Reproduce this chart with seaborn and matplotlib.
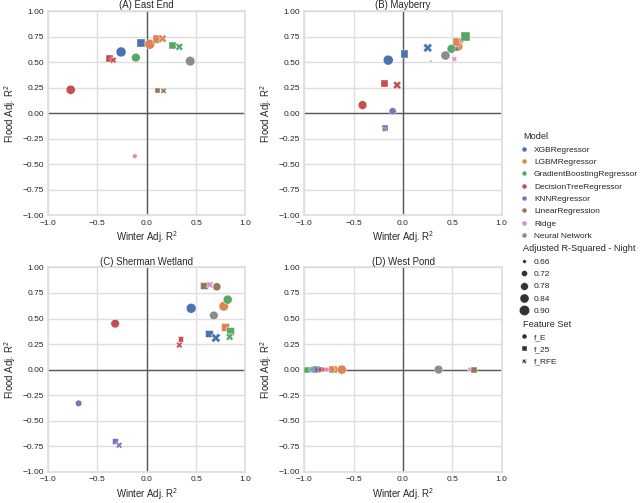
import pandas as pd
import seaborn as sns
import matplotlib.pyplot as plt
from matplotlib.lines import Line2D
from seaborn.utils import adjust_legend_subtitles

models = ['XGBRegressor', 'LGBMRegressor', 'GradientBoostingRegressor', 'DecisionTreeRegressor',
          'KNNRegressor', 'LinearRegression', 'Ridge', 'Neural Network']
short = dict(zip(['XGB', 'LGBM', 'GB', 'DT', 'KNN', 'LR', 'Ridge', 'NN'], models))
features = ['f_E', 'f_25', 'f_RFE']
size_ticks = [0.66, 0.72, 0.78, 0.84, 0.90]

# (A) East End
east_model = ['XGB', 'XGB', 'XGB', 'LGBM', 'LGBM', 'LGBM', 'GB', 'GB', 'GB',
              'DT', 'DT', 'DT', 'LR', 'LR', 'Ridge', 'NN']
east_feat = ['f_E', 'f_25', 'f_RFE', 'f_E', 'f_25', 'f_RFE', 'f_E', 'f_25', 'f_RFE',
             'f_E', 'f_25', 'f_RFE', 'f_25', 'f_RFE', 'f_E', 'f_E']
east_winter = [-0.26, -0.055, 0.10, 0.03, 0.10, 0.16, -0.11, 0.26, 0.33,
               -0.77, -0.38, -0.34, 0.11, 0.17, -0.12, 0.44]
east_flood = [0.60, 0.69, 0.70, 0.675, 0.73, 0.73, 0.545, 0.665, 0.65,
              0.23, 0.535, 0.52, 0.22, 0.22, -0.42, 0.51]
east_night = [0.88, 0.78, 0.68, 0.88, 0.78, 0.80, 0.82, 0.74, 0.78,
              0.84, 0.74, 0.74, 0.68, 0.72, 0.68, 0.86]

# (B) Mayberry
may_model = ['XGB', 'XGB', 'XGB', 'LGBM', 'LGBM', 'LGBM', 'GB', 'GB', 'DT', 'DT', 'DT',
             'KNN', 'KNN', 'KNN', 'LR', 'Ridge', 'NN', 'NN']
may_feat = ['f_E', 'f_25', 'f_RFE', 'f_E', 'f_25', 'f_RFE', 'f_E', 'f_25', 'f_E', 'f_25', 'f_RFE',
            'f_E', 'f_25', 'f_RFE', 'f_25', 'f_RFE', 'f_E', 'f_RFE']
may_winter = [-0.15, 0.015, 0.25, 0.56, 0.55, 0.59, 0.49, 0.635, -0.41, -0.19, -0.06,
              -0.105, -0.18, -0.19, 0.545, 0.52, 0.43, 0.28]
may_flood = [0.52, 0.58, 0.64, 0.655, 0.70, 0.71, 0.63, 0.75, 0.08, 0.29, 0.275,
             0.02, -0.14, -0.16, 0.63, 0.53, 0.565, 0.51]
may_night = [0.88, 0.76, 0.84, 0.84, 0.80, 0.70, 0.82, 0.82, 0.82, 0.74, 0.80,
             0.76, 0.72, 0.68, 0.68, 0.70, 0.84, 0.64]

# (C) Sherman Wetland
sher_model = ['XGB', 'XGB', 'XGB', 'LGBM', 'LGBM', 'GB', 'GB', 'GB', 'DT', 'DT', 'DT',
              'KNN', 'KNN', 'KNN', 'LR', 'LR', 'Ridge', 'NN']
sher_feat = ['f_E', 'f_25', 'f_RFE', 'f_E', 'f_25', 'f_E', 'f_25', 'f_RFE', 'f_E', 'f_25', 'f_RFE',
             'f_E', 'f_25', 'f_RFE', 'f_25', 'f_E', 'f_RFE', 'f_E']
sher_winter = [0.45, 0.63, 0.70, 0.78, 0.79, 0.82, 0.84, 0.84, -0.32, 0.34, 0.33,
               -0.69, -0.32, -0.28, 0.58, 0.71, 0.64, 0.68]
sher_flood = [0.60, 0.35, 0.31, 0.62, 0.415, 0.685, 0.375, 0.32, 0.45, 0.30, 0.24,
              -0.33, -0.70, -0.74, 0.82, 0.81, 0.83, 0.53]
sher_night = [0.88, 0.76, 0.86, 0.86, 0.78, 0.84, 0.78, 0.78, 0.82, 0.70, 0.74,
              0.74, 0.70, 0.74, 0.76, 0.80, 0.76, 0.82]

# (D) West Pond
west_model = ['GB', 'GB', 'KNN', 'XGB', 'XGB', 'DT', 'DT', 'Ridge', 'LGBM', 'LGBM', 'LGBM',
              'NN', 'Ridge', 'LR']
west_feat = ['f_25', 'f_E', 'f_E', 'f_25', 'f_E', 'f_25', 'f_RFE', 'f_E', 'f_25', 'f_RFE', 'f_E',
             'f_E', 'f_RFE', 'f_25']
west_winter = [-0.97, -0.92, -0.90, -0.88, -0.87, -0.83, -0.80, -0.77, -0.71, -0.66, -0.62,
               0.36, 0.68, 0.72]
west_flood = [0.0] * 14
west_night = [0.72, 0.74, 0.74, 0.76, 0.72, 0.70, 0.70, 0.68, 0.78, 0.80, 0.84,
              0.82, 0.70, 0.72]

sites = [
    ('(A) East End', east_model, east_feat, east_winter, east_flood, east_night),
    ('(B) Mayberry', may_model, may_feat, may_winter, may_flood, may_night),
    ('(C) Sherman Wetland', sher_model, sher_feat, sher_winter, sher_flood, sher_night),
    ('(D) West Pond', west_model, west_feat, west_winter, west_flood, west_night),
]

sns.set_theme(style='whitegrid')
plt.rcParams['font.family'] = ['Liberation Sans', 'DejaVu Sans']
plt.rcParams['mathtext.default'] = 'regular'
plt.rcParams['grid.color'] = '0.87'
plt.rcParams['axes.edgecolor'] = '0.87'

palette = dict(zip(models, sns.color_palette('deep', 8)))
markers = {'f_E': 'o', 'f_25': 's', 'f_RFE': 'X'}
sizes = (3, 55)
size_norm = (0.64, 0.90)

fig, axes = plt.subplots(2, 2, figsize=(6.4, 5.03), dpi=100)
fig.subplots_adjust(left=0.075, right=0.784, bottom=0.062, top=0.978, wspace=0.298, hspace=0.254)

for ax, (title, m, f, w, fl, n) in zip(axes.flat, sites):
    df = pd.DataFrame({'Model': [short[k] for k in m], 'Feature Set': f,
                       'Winter': w, 'Flood': fl, 'Night': n})
    ax.axhline(0, color='0.35', lw=1.0, zorder=1)
    ax.axvline(0, color='0.35', lw=1.0, zorder=1)
    sns.scatterplot(data=df, x='Winter', y='Flood', hue='Model', hue_order=models, palette=palette,
                    size='Night', sizes=sizes, size_norm=size_norm,
                    style='Feature Set', style_order=features, markers=markers,
                    legend=False, ax=ax, zorder=3)
    ax.set_xlim(-1, 1)
    ax.set_ylim(-1, 1)
    ax.set_xticks([-1.0, -0.5, 0.0, 0.5, 1.0])
    ax.set_yticks([-1.0, -0.75, -0.5, -0.25, 0.0, 0.25, 0.5, 0.75, 1.0])
    ax.tick_params(labelsize=6.0, length=0, pad=3)
    ax.set_xlabel('Winter Adj. R$^2$', fontsize=6.9, labelpad=2)
    ax.set_ylabel('Flood Adj. R$^2$', fontsize=6.9, labelpad=3)
    ax.set_title(title, fontsize=6.9, pad=2)

# legend in seaborn style
def smap(v):
    return sizes[0] + (v - size_norm[0]) / (size_norm[1] - size_norm[0]) * (sizes[1] - sizes[0])

handles, labels = [], []
handles.append(Line2D([], [], linestyle='', marker='', visible=False)); labels.append('Model')
for mdl in models:
    handles.append(Line2D([], [], linestyle='', marker='o', color=palette[mdl], markersize=3.6,
                          markeredgecolor='w', markeredgewidth=0.3))
    labels.append(mdl)
handles.append(Line2D([], [], linestyle='', marker='', visible=False)); labels.append('Adjusted R-Squared - Night')
for v in size_ticks:
    handles.append(Line2D([], [], linestyle='', marker='o', color='.2', markersize=smap(v) ** 0.5,
                          markeredgecolor='w', markeredgewidth=0.3))
    labels.append(f'{v:.2f}')
handles.append(Line2D([], [], linestyle='', marker='', visible=False)); labels.append('Feature Set')
for ft in features:
    handles.append(Line2D([], [], linestyle='', marker=markers[ft], color='.2', markersize=3.6,
                          markeredgecolor='w', markeredgewidth=0.3))
    labels.append(ft)

plt.rcParams['legend.title_fontsize'] = 6.6
leg = fig.legend(handles, labels, loc='center left', bbox_to_anchor=(0.803, 0.505), frameon=False,
                 fontsize=6.0, handlelength=1.3, handletextpad=0.6, labelspacing=0.54, borderpad=0)
adjust_legend_subtitles(leg)

fig.savefig('out.png', dpi=100)
